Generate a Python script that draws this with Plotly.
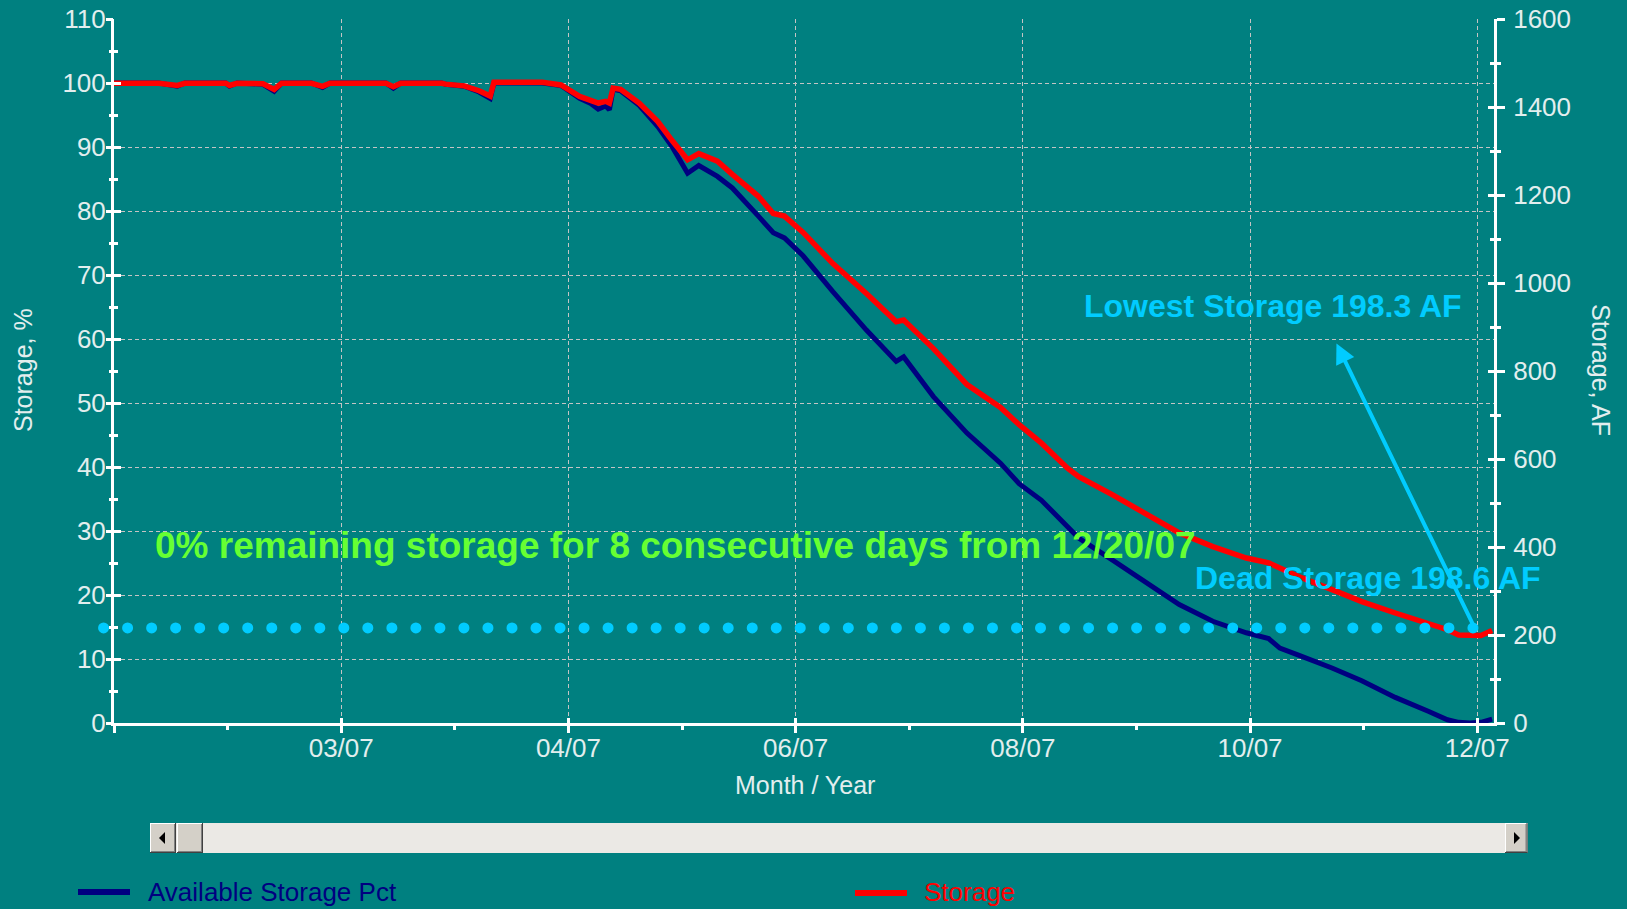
import numpy as np
import plotly.graph_objects as go

# ---------------- data ----------------
DAYS = [0, 12, 17, 19, 30, 31, 33, 40, 43, 45, 53, 56, 58, 73, 75, 77, 88, 89, 94, 98,
        101, 102, 115, 120, 125, 128, 130, 132, 133, 134, 136, 141, 146, 150, 154, 157,
        162, 166, 173, 177, 180, 185, 193, 202, 210, 212, 220, 229, 238, 243, 249, 256,
        259, 268, 277, 286, 295, 304, 310, 313, 318, 327, 335, 344, 353, 358, 361, 364,
        367, 370]
AVAIL_PCT = [100, 100, 99.5, 100, 100, 99.5, 100, 99.8, 98.7, 100, 100, 99.3, 100, 100,
             99.2, 100, 100, 99.8, 99.5, 98.6, 97.6, 100, 100, 99.6, 97.6, 96.8, 95.9,
             96.4, 95.8, 99.0, 98.8, 96.5, 93.2, 89.9, 85.9, 87.1, 85.4, 83.6, 79.2, 76.6,
             75.8, 73.0, 67.4, 61.4, 56.5, 57.2, 51.0, 45.3, 40.6, 37.4, 34.8, 30.8, 28.9,
             25.5, 21.9, 18.5, 15.9, 14.1, 13.2, 11.7, 10.6, 8.6, 6.6, 4.0, 1.8, 0.5, 0.1,
             0.0, 0.1, 0.6]
STORAGE_AF = [1454, 1454, 1449, 1454, 1454, 1449, 1454, 1453, 1440, 1454, 1454, 1447, 1454,
              1454, 1446, 1454, 1454, 1452, 1448, 1437, 1425, 1456, 1456, 1450, 1424, 1414,
              1409, 1413, 1409, 1443, 1440, 1409, 1367, 1322, 1280, 1294, 1277, 1247, 1197,
              1158, 1152, 1115, 1044, 976, 912, 916, 851, 769, 717, 678, 636, 579, 560, 519,
              474, 432, 401, 375, 364, 352, 333, 303, 276, 250, 224, 212, 200, 198.3, 199,
              210]

X_TICKVALS = [0, 61, 122, 183, 244, 305, 366]
X_TICKTEXT = ["", "03/07", "04/07", "06/07", "08/07", "10/07", "12/07"]
X_MINOR = [30.5, 91.5, 152.5, 213.5, 274.5, 335.5]
X_RANGE = [0, 370.5]
Y_RANGE = [0, 110]
Y2_RANGE = [0, 1600]

DEAD_LINE_AF = 216          # drawn dotted level (right axis units)
DOT_START, DOT_STOP, DOT_STEP = -2.8, 366, 6.45   # dotted level extent, in days

LOWEST_TXT = "Lowest Storage 198.3 AF"
DEAD_TXT = "Dead Storage 198.6 AF"
NOTE_TXT = "0% remaining storage for 8 consecutive days from 12/20/07"

# ---------------- styling ----------------
TEAL = "#008080"
NAVY = "#000080"
RED = "#ff0000"
CYAN = "#00ccff"
GREEN = "#66ff33"
LABEL = "#e2eeee"
GRID = "#c4c4c4"
FONT = "Liberation Sans, Arial, sans-serif"

W, H = 1627, 909
L, R, T, B = 114, 1494, 19, 723


def px(x):
    return (x - L) / (R - L)


def py(y):
    return (B - y) / (B - T)


fig = go.Figure()

fig.add_trace(go.Scatter(x=DAYS, y=AVAIL_PCT, mode="lines", name="Available Storage Pct",
                         line=dict(color=NAVY, width=5), yaxis="y", showlegend=False))
fig.add_trace(go.Scatter(x=DAYS, y=STORAGE_AF, mode="lines", name="Storage",
                         line=dict(color=RED, width=5.5), yaxis="y2", showlegend=False))

# dummy traces to activate the overlay axes that draw the outer tick halves
fig.add_trace(go.Scatter(x=[], y=[], xaxis="x2", yaxis="y3", showlegend=False))
fig.add_trace(go.Scatter(x=[], y=[], xaxis="x", yaxis="y4", showlegend=False))

tickfont = dict(family=FONT, size=26, color=LABEL)
tk = dict(tickwidth=2.5, tickcolor="white", automargin=False, zeroline=False)

fig.update_layout(
    width=W, height=H,
    paper_bgcolor=TEAL, plot_bgcolor=TEAL,
    margin=dict(l=L, r=W - R, t=T, b=H - B, pad=0, autoexpand=False),
    showlegend=False,
    xaxis=dict(range=X_RANGE, tickmode="array", tickvals=X_TICKVALS, ticktext=X_TICKTEXT,
               ticks="inside", ticklen=5, showline=True, linecolor="white", linewidth=3,
               showgrid=True, gridcolor=GRID, gridwidth=1, griddash="4px,3px",
               tickfont=tickfont, **tk),
    xaxis2=dict(range=X_RANGE, overlaying="x", anchor="y", side="bottom",
                tickmode="array", tickvals=X_TICKVALS, ticks="outside", ticklen=9,
                showticklabels=False, showgrid=False, showline=False,
                minor=dict(tickmode="array", tickvals=X_MINOR, ticks="outside", ticklen=6,
                           tickwidth=2.5, tickcolor="white", showgrid=False), **tk),
    yaxis=dict(range=Y_RANGE, tick0=0, dtick=10, ticks="inside", ticklen=7,
               showline=True, linecolor="white", linewidth=3,
               showgrid=True, gridcolor=GRID, gridwidth=1, griddash="4px,3px",
               tickfont=tickfont,
               minor=dict(dtick=5, ticks="inside", ticklen=4, tickwidth=2.5,
                          tickcolor="white", showgrid=False), **tk),
    yaxis3=dict(range=Y_RANGE, tick0=0, dtick=10, overlaying="y", side="left", anchor="x",
                ticks="outside", ticklen=7, showticklabels=False, showgrid=False,
                showline=False,
                minor=dict(dtick=5, ticks="outside", ticklen=4, tickwidth=2.5,
                           tickcolor="white", showgrid=False), **tk),
    yaxis2=dict(range=Y2_RANGE, tick0=0, dtick=200, overlaying="y", side="right",
                anchor="x", ticks="outside", ticklen=8, ticklabelstandoff=3,
                showline=True, linecolor="white", linewidth=3, showgrid=False,
                tickfont=tickfont,
                minor=dict(dtick=100, ticks="outside", ticklen=4, tickwidth=2.5,
                           tickcolor="white", showgrid=False), **tk),
    yaxis4=dict(range=Y2_RANGE, tick0=0, dtick=200, overlaying="y", side="right", anchor="x",
                ticks="inside", ticklen=6, showticklabels=False, showgrid=False,
                showline=False,
                minor=dict(dtick=100, ticks="inside", ticklen=4, tickwidth=2.5,
                           tickcolor="white", showgrid=False), **tk),
)

ann = []
# axis titles
ann.append(dict(text="Storage, %", x=px(23), y=py(370), xref="paper", yref="paper",
                xanchor="center", yanchor="middle",
                textangle=-90, showarrow=False, font=dict(family=FONT, size=25, color=LABEL)))
ann.append(dict(text="Storage, AF", x=px(1601), y=py(370), xref="paper", yref="paper",
                xanchor="center", yanchor="middle",
                textangle=90, showarrow=False, font=dict(family=FONT, size=25, color=LABEL)))
ann.append(dict(text="Month / Year", x=px(805), y=py(785), xref="paper", yref="paper",
                xanchor="center", yanchor="middle",
                showarrow=False, font=dict(family=FONT, size=25, color=LABEL)))
# chart notes
ann.append(dict(text=NOTE_TXT, x=10.6, y=27.8, xref="x", yref="y", xanchor="left",
                yanchor="middle", showarrow=False,
                font=dict(family=FONT, size=37, color=GREEN, weight="bold")))
ann.append(dict(text=LOWEST_TXT, x=259.9, y=65.1, xref="x", yref="y", xanchor="left",
                yanchor="middle", showarrow=False,
                font=dict(family=FONT, size=32, color=CYAN, weight="bold")))
ann.append(dict(text=DEAD_TXT, x=289.7, y=22.6, xref="x", yref="y", xanchor="left",
                yanchor="middle", showarrow=False,
                font=dict(family=FONT, size=32, color=CYAN, weight="bold")))
ann.append(dict(text="", x=328.2, y=59.3, xref="x", yref="y", ax=365, ay=15.2,
                axref="x", ayref="y", showarrow=True, arrowhead=2, arrowsize=1,
                arrowwidth=4, arrowcolor=CYAN, standoff=0, startstandoff=0))
# legend texts
ann.append(dict(text="Available Storage Pct", x=px(146), y=py(892), xref="paper",
                yref="paper", xanchor="left", yanchor="middle", showarrow=False,
                font=dict(family=FONT, size=26, color=NAVY)))
ann.append(dict(text="Storage", x=px(922), y=py(892), xref="paper", yref="paper",
                xanchor="left", yanchor="middle", showarrow=False,
                font=dict(family=FONT, size=26, color=RED)))

shapes = []

# dotted dead-storage level: round dots, allowed to run past the left axis
xspan = X_RANGE[1] - X_RANGE[0]
dot_y = (DEAD_LINE_AF - Y2_RANGE[0]) / (Y2_RANGE[1] - Y2_RANGE[0])
rx = 5.5 / (R - L)
ry = 5.5 / (B - T)
for d in np.arange(DOT_START, DOT_STOP, DOT_STEP):
    cx = (d - X_RANGE[0]) / xspan
    shapes.append(dict(type="circle", xref="paper", yref="paper", x0=cx - rx, x1=cx + rx,
                       y0=dot_y - ry, y1=dot_y + ry, fillcolor=CYAN,
                       line=dict(color=CYAN, width=0), layer="above"))

# legend line samples
shapes.append(dict(type="line", xref="paper", yref="paper", x0=px(78), x1=px(130),
                   y0=py(892), y1=py(892), line=dict(color=NAVY, width=6)))
shapes.append(dict(type="line", xref="paper", yref="paper", x0=px(855), x1=px(907),
                   y0=py(893), y1=py(893), line=dict(color=RED, width=6)))


def rect(x0, y0, x1, y1, fill):
    return dict(type="rect", xref="paper", yref="paper", x0=px(x0), x1=px(x1),
                y0=py(y1), y1=py(y0), fillcolor=fill, layer="above",
                line=dict(color=fill, width=0))


def hline(x0, x1, y, color, w=1):
    return dict(type="line", xref="paper", yref="paper", x0=px(x0), x1=px(x1),
                y0=py(y), y1=py(y), line=dict(color=color, width=w))


def vline(x, y0, y1, color, w=1):
    return dict(type="line", xref="paper", yref="paper", x0=px(x), x1=px(x),
                y0=py(y0), y1=py(y1), line=dict(color=color, width=w))


# scrollbar
shapes.append(rect(150, 823, 1527.5, 853, "#ebe9e5"))
for (a, b) in [(150, 176), (177, 203), (1505, 1527.5)]:
    shapes.append(rect(a, 823, b, 853, "#d4d0c8"))
    shapes.append(hline(a, b, 823.5, "#ffffff"))
    shapes.append(vline(a + 0.5, 823, 853, "#ffffff"))
    shapes.append(hline(a, b, 852.5, "#404040"))
    shapes.append(vline(b - 0.5, 823, 853, "#404040"))
    shapes.append(hline(a + 1, b - 1, 851.5, "#808080"))
    shapes.append(vline(b - 1.5, 824, 852, "#808080"))


def tri(pts):
    p = "M " + " L ".join(f"{px(x):.5f},{py(y):.5f}" for x, y in pts) + " Z"
    return dict(type="path", xref="paper", yref="paper", path=p, fillcolor="black",
                line=dict(color="black", width=0), layer="above")


shapes.append(tri([(159, 838), (165, 832), (165, 844)]))
shapes.append(tri([(1520, 838), (1514, 832), (1514, 844)]))

fig.update_layout(annotations=ann, shapes=shapes)

fig.write_html("out.html", config={"displayModeBar": False},
               post_script="document.body.style.margin='0';"
                           "document.body.style.background='#008080';")
